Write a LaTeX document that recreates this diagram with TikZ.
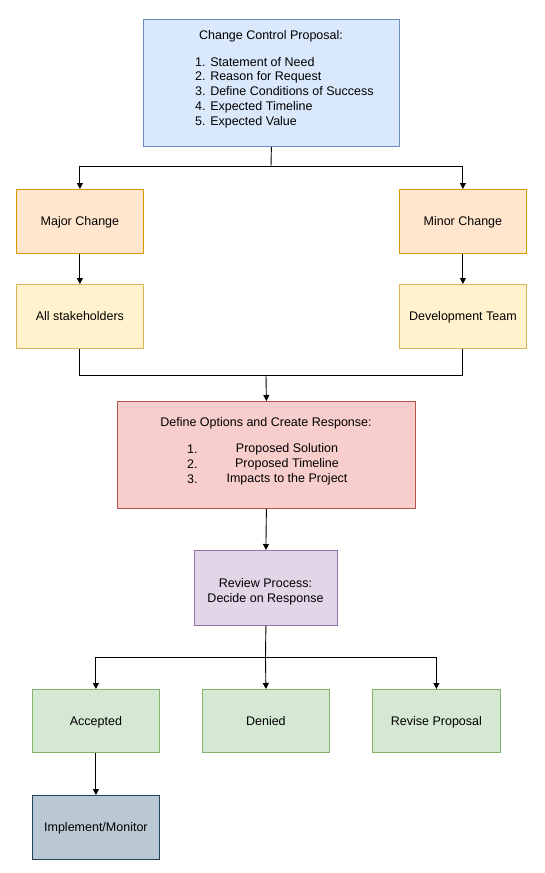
\documentclass[tikz,border=0pt]{standalone}
\usepackage{fontspec}
\setmainfont{Liberation Sans}
\usetikzlibrary{arrows.meta}
\definecolor{blueF}{HTML}{DAE8FC}\definecolor{blueD}{HTML}{6C8EBF}
\definecolor{orangeF}{HTML}{FFE6CC}\definecolor{orangeD}{HTML}{D79B00}
\definecolor{yellowF}{HTML}{FFF2CC}\definecolor{yellowD}{HTML}{D6B656}
\definecolor{redF}{HTML}{F8CECC}\definecolor{redD}{HTML}{B85450}
\definecolor{purpleF}{HTML}{E1D5E7}\definecolor{purpleD}{HTML}{9673A6}
\definecolor{greenF}{HTML}{D5E8D4}\definecolor{greenD}{HTML}{82B366}
\definecolor{slateF}{HTML}{BAC8D3}\definecolor{slateD}{HTML}{23445D}
\begin{document}
\begin{tikzpicture}[x=1pt,y=-1pt,
  font=\fontsize{12.5}{14.8}\selectfont,
  box/.style={draw, line width=0.8pt, anchor=north west, inner sep=0pt, align=center},
  lbl/.style={text height=9pt, text depth=0pt},
  txt/.style={inner sep=0pt},
  conn/.style={line width=0.9pt, black},
  arr/.style={conn, -{Triangle[length=6pt,width=6pt]}}]
\useasboundingbox (0,0) rectangle (544,873);
% boxes
\node[box, fill=blueF, draw=blueD, minimum width=256pt, minimum height=127pt] (ccp) at (143,19) {};
\node[txt, lbl] (ccph) at (271,35) {Change Control Proposal:};
\node[txt, anchor=west, align=left] (ccpl) at (195,92.5) {1. Statement of Need\\2. Reason for Request\\3. Define Conditions of Success\\4. Expected Timeline\\5. Expected Value};

\node[box, lbl, fill=orangeF, draw=orangeD, minimum width=127pt, minimum height=64pt] (major) at (16,189) {Major Change};
\node[box, lbl, fill=orangeF, draw=orangeD, minimum width=127pt, minimum height=64pt] (minor) at (399,189) {Minor Change};
\node[box, lbl, fill=yellowF, draw=yellowD, minimum width=127pt, minimum height=64pt] (allst) at (16,284) {All stakeholders};
\node[box, lbl, fill=yellowF, draw=yellowD, minimum width=127pt, minimum height=64pt] (dev) at (399,284) {Development Team};

\node[box, fill=redF, draw=redD, minimum width=298pt, minimum height=107pt] (define) at (117,401) {};
\node[txt, lbl] (defh) at (266,422) {Define Options and Create Response:};
\node[txt, anchor=west, align=left] (defn) at (187,464.5) {1.\\2.\\3.};
\node[txt, align=center] (defl) at (287,464.5) {Proposed Solution\\Proposed Timeline\\Impacts to the Project};

\node[box, fill=purpleF, draw=purpleD, minimum width=143pt, minimum height=75pt] (review) at (194,550) {};
\node[txt, align=center] (revt) at (265.5,591.5) {Review Process:\\Decide on Response};

\node[box, lbl, fill=greenF, draw=greenD, minimum width=127pt, minimum height=63pt] (acc) at (32,689) {Accepted};
\node[box, lbl, fill=greenF, draw=greenD, minimum width=127pt, minimum height=63pt] (den) at (202,689) {Denied};
\node[box, lbl, fill=greenF, draw=greenD, minimum width=128pt, minimum height=63pt] (rev) at (372,689) {Revise Proposal};
\node[box, lbl, fill=slateF, draw=slateD, minimum width=127pt, minimum height=64pt] (impl) at (32,795) {Implement/Monitor};

% connectors
\coordinate (s1) at (271,166);
\draw[conn] (ccp.south) -- (s1);
\draw[arr] (s1) -| (major.north);
\draw[arr] (s1) -| (minor.north);
\draw[arr] (major) -- (allst);
\draw[arr] (minor) -- (dev);
\coordinate (m1) at (266,375);
\draw[conn] (allst.south) |- (m1);
\draw[conn] (dev.south) |- (m1);
\draw[arr] (m1) -- (define.north);
\draw[arr] (define.south) -- (review.north);
\coordinate (s2) at (265.5,657);
\draw[conn] (review.south) -- (s2);
\draw[arr] (s2) -| (acc.north);
\draw[arr] (s2) -- (den.north);
\draw[arr] (s2) -| (rev.north);
\draw[arr] (acc) -- (impl);
\end{tikzpicture}
\end{document}
